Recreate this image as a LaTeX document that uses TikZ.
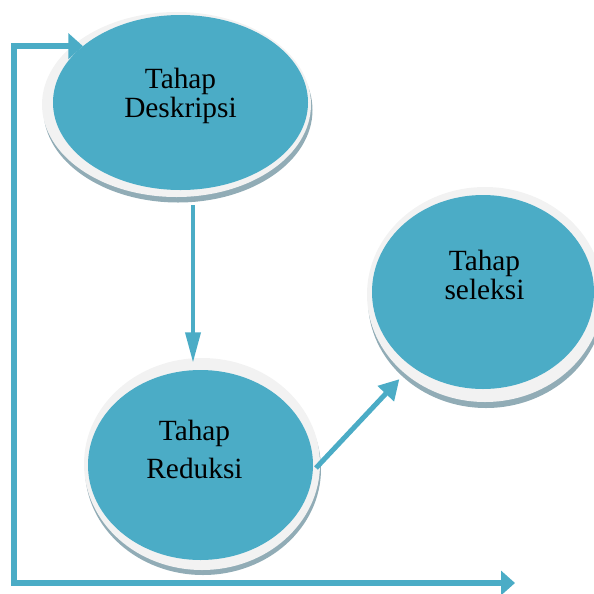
\documentclass[tikz,border=0pt]{standalone}
\usepackage{fontspec}
\setmainfont{Liberation Serif}
\usetikzlibrary{calc,arrows.meta,shapes.geometric,backgrounds}

\definecolor{tahapfill}{RGB}{75,172,198}
\definecolor{tahapring}{RGB}{242,242,242}
\definecolor{tahapshade}{RGB}{145,172,182}

\tikzset{
  tahap/.style={ellipse, fill=tahapfill, inner sep=0pt, outer sep=0pt},
  tahaptext/.style={align=center, inner sep=0pt, font=\fontsize{22}{22}\selectfont},
  flow/.style={draw=tahapfill, line width=4.5pt}
}

\begin{document}
\begin{tikzpicture}[x=0.75pt,y=0.75pt,yscale=-1,xscale=1]
\useasboundingbox (0,0) rectangle (594,594);
%Ellipses
\node[tahap, minimum width=191.25pt, minimum height=131.25pt] (deskripsi) at (180.5,102.5) {};
\node[tahap, minimum width=168.75pt, minimum height=142.5pt] (reduksi) at (200.5,465) {};
\node[tahap, minimum width=166.5pt, minimum height=145.5pt] (seleksi) at (483,292) {};
%Ring and shadow under each ellipse
\begin{scope}[on background layer]
  \fill[tahapshade] ($(deskripsi.center)+(-2.5,7.5)$) ellipse [x radius=134.5, y radius=92.5];
  \fill[tahapring] ($(deskripsi.center)+(-4,2)$) ellipse [x radius=134.5, y radius=92.5];
  \fill[tahapshade] ($(reduksi.center)+(2.5,4)$) ellipse [x radius=118, y radius=106];
  \fill[tahapring] ($(reduksi.center)+(1.5,-1)$) ellipse [x radius=118, y radius=106];
  \fill[tahapshade] ($(seleksi.center)+(3,8.5)$) ellipse [x radius=118, y radius=107.5];
  \fill[tahapring] ($(seleksi.center)+(2,2.5)$) ellipse [x radius=118, y radius=107.5];
\end{scope}
%Texts
\node[tahaptext] (deskripsi-label) at ($(deskripsi.center)+(0,-6.7)$) {Tahap\\Deskripsi};
\node[tahaptext] (reduksi-label) at ($(reduksi.center)+(-6,-16)$) {Tahap\\[6.5pt]Reduksi};
\node[tahaptext] (seleksi-label) at ($(seleksi.center)+(1.5,-17.2)$) {Tahap\\seleksi};
%Straight Lines
\draw[flow, line width=3.4pt, -{Triangle[length=23pt,width=11pt]}] ($(deskripsi.south)+(12.5,15)$) -- ($(reduksi.north)+(-7.5,-7)$);
\draw[flow, line width=3.75pt, -{Triangle[length=15pt,width=16pt]}] ($(reduksi.east)+(3,3)$) -- ($(seleksi.226)+(-12,13)$);
%Loop back to the first stage
\coordinate (loopend) at (515,583);
\coordinate (loopcorner) at (14,583);
\draw[flow, {Triangle[length=10.5pt,width=18pt]}-{Triangle[length=11pt,width=19pt]}] (loopend) -- (loopcorner) |- (deskripsi.150);
\end{tikzpicture}
\end{document}
